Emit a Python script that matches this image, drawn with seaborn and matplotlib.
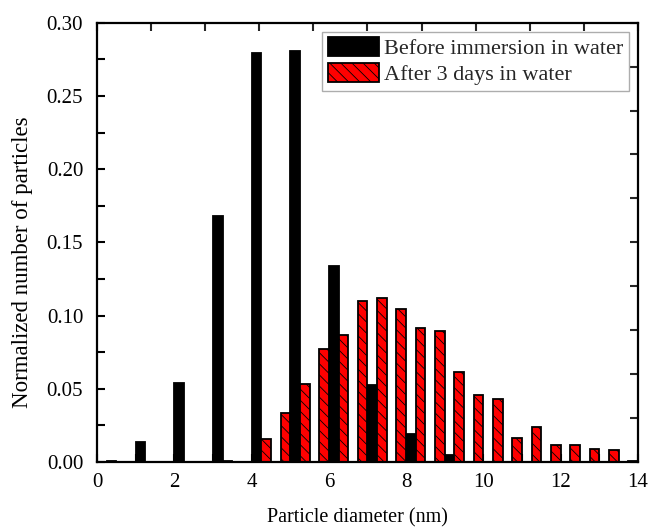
import numpy as np
import pandas as pd
import matplotlib
matplotlib.use("Agg")
import matplotlib.pyplot as plt
from matplotlib.patches import Patch
from matplotlib.ticker import MultipleLocator, FormatStrFormatter
import seaborn as sns

# ---- data ----
bin_centers = [0.25, 0.75, 1.25, 1.75, 2.25, 2.75, 3.25, 3.75, 4.25, 4.75,
               5.25, 5.75, 6.25, 6.75, 7.25, 7.75, 8.25, 8.75, 9.25, 9.75,
               10.25, 10.75, 11.25, 11.75, 12.25, 12.75, 13.25, 13.75]
before = [0.0, 0.0, 0.0138, 0.0, 0.054, 0.0, 0.168, 0.0, 0.279, 0.0,
          0.281, 0.0, 0.134, 0.0, 0.0525, 0.0, 0.019, 0.0, 0.005, 0.0,
          0.0, 0.0, 0.0, 0.0, 0.0, 0.0, 0.0, 0.0]
after = [0.001, 0.0, 0.0, 0.0, 0.0, 0.0, 0.001, 0.0, 0.0157, 0.0336,
         0.053, 0.0773, 0.087, 0.110, 0.1123, 0.1048, 0.0918, 0.0895, 0.0616, 0.0457,
         0.0427, 0.0161, 0.0236, 0.0116, 0.0116, 0.0089, 0.0082, 0.001]
series_names = ["Before immersion in water", "After 3 days in water"]
x_label = "Particle diameter (nm)"
y_label = "Normalized number of particles"

df = pd.DataFrame({
    "d": bin_centers * 2,
    "v": before + after,
    "series": [series_names[0]] * len(bin_centers) + [series_names[1]] * len(bin_centers),
})

sns.set_theme(style="white")
plt.rcParams["font.family"] = ["Liberation Serif", "DejaVu Serif"]
plt.rcParams["hatch.linewidth"] = 0.6

fig = plt.figure(figsize=(6.49, 5.28), dpi=100)
ax = fig.add_axes([0.1495, 0.125, 0.8335, 0.832])

sns.barplot(data=df, x="d", y="v", hue="series", native_scale=True,
            width=1.0, dodge=True, errorbar=None,
            palette={series_names[0]: "black", series_names[1]: "#ff0000"},
            edgecolor="black", linewidth=1.3, saturation=1, ax=ax, legend=False)

for bar in ax.containers[1]:
    bar.set_hatch("\\\\\\")

ax.set_xlim(0, 14)
ax.set_ylim(0, 0.30)
ax.xaxis.set_major_locator(MultipleLocator(2))
ax.xaxis.set_minor_locator(MultipleLocator(1))
ax.yaxis.set_major_locator(MultipleLocator(0.05))
ax.yaxis.set_minor_locator(MultipleLocator(0.025))
ax.yaxis.set_major_formatter(FormatStrFormatter("%.2f"))
ax.xaxis.set_major_formatter(FormatStrFormatter("%d"))
ax.tick_params(which="both", direction="in", length=6, width=1.5,
               labelsize=15, colors="black", bottom=True, left=True)
ax.tick_params(axis="x", pad=8)
ax.tick_params(axis="y", pad=10)
for sp in ax.spines.values():
    sp.set_linewidth(1.6)
    sp.set_color("black")

# mirrored top/right axes (tick marks only)
top = ax.secondary_xaxis("top")
top.set_xticks(np.arange(0, 14.01, 1.4))
top.tick_params(direction="in", length=6, width=1.5, labeltop=False)
top.set_xticklabels([])
right = ax.secondary_yaxis("right")
right.set_yticks(np.arange(0, 0.301, 0.03))
right.tick_params(direction="in", length=6, width=1.5, labelright=False)
right.set_yticklabels([])

ax.set_xlabel(x_label, fontsize=14.5, color="black")
ax.set_ylabel(y_label, fontsize=16.5, color="black")
ax.xaxis.set_label_coords(0.482, -0.105)
ax.yaxis.set_label_coords(-0.118, 0.455)

handles = [Patch(facecolor="black", edgecolor="black", linewidth=1.3),
           Patch(facecolor="#ff0000", edgecolor="black", linewidth=1.3, hatch="\\\\\\")]
leg = ax.legend(handles, series_names, loc="upper right", fontsize=16,
                frameon=True, fancybox=False, edgecolor="#999999",
                handlelength=2.3, handleheight=0.9, handletextpad=0.25,
                borderpad=0.25, labelspacing=0.2, borderaxespad=0.4)
leg.get_frame().set_linewidth(1.0)

fig.savefig("out.png", dpi=100)
